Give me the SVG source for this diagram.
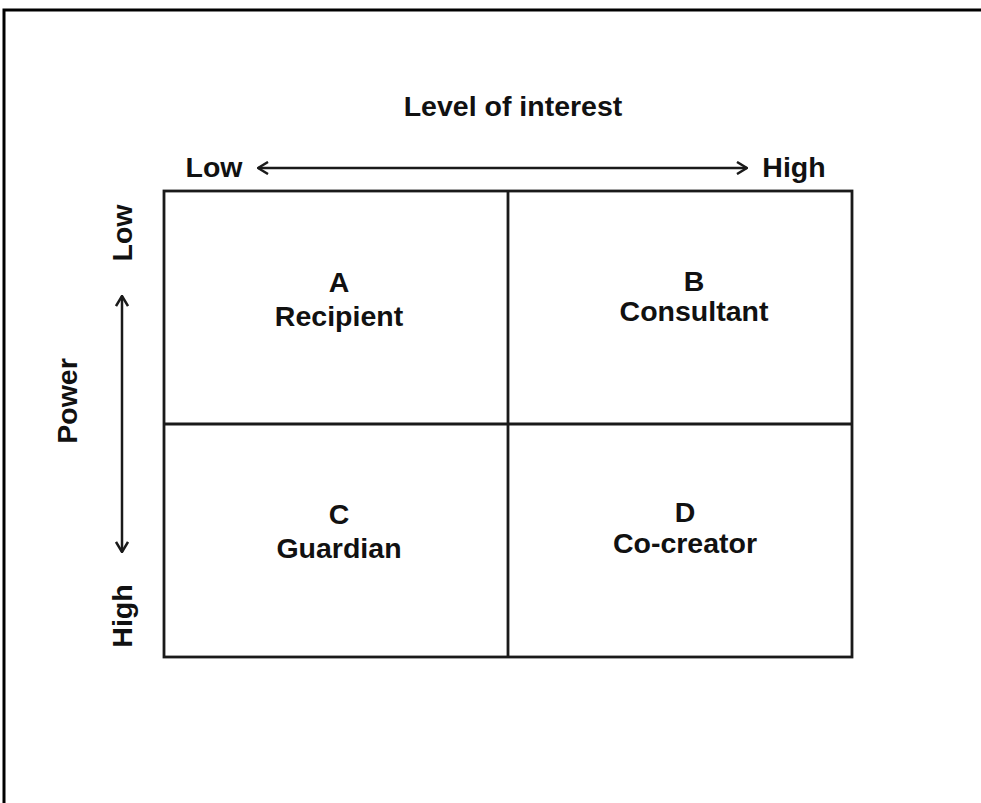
<svg xmlns="http://www.w3.org/2000/svg" width="981" height="803" viewBox="0 0 981 803">
  <style>
    .lbl { font-family: "Liberation Sans", Arial, sans-serif; font-weight: bold; font-size: 28.5px; fill: #111; text-anchor: middle; }
    .grid { fill: none; stroke: #1a1a1a; stroke-width: 2.8; }
    .axis { fill: none; stroke: #1a1a1a; stroke-width: 2.5; }
    .frame { fill: none; stroke: #000; stroke-width: 3; }
  </style>
  <defs>
    <marker id="chev" viewBox="0 0 12 14" refX="11" refY="7" markerWidth="12" markerHeight="14" markerUnits="userSpaceOnUse" orient="auto-start-reverse">
      <path d="M1,1 L11,7 L1,13" fill="none" stroke="#1a1a1a" stroke-width="2.5" stroke-linejoin="miter"/>
    </marker>
  </defs>
  <rect width="981" height="803" fill="#fff"/>

  <!-- outer frame: top and left edges -->
  <path class="frame" d="M4,803 L4,10 L981,10"/>

  <!-- axis titles and end labels -->
  <g id="axis-interest">
    <text class="lbl" x="513" y="116">Level of interest</text>
    <text class="lbl" x="214" y="177">Low</text>
    <text class="lbl" x="794" y="177">High</text>
  </g>
  <g id="axis-power">
    <text class="lbl" transform="translate(77,401) rotate(-90)">Power</text>
    <text class="lbl" transform="translate(132,233) rotate(-90)">Low</text>
    <text class="lbl" transform="translate(132,616) rotate(-90)">High</text>
  </g>

  <!-- axis arrows -->
  <g id="connectors">
    <line class="axis" x1="258" y1="168" x2="747" y2="168" marker-start="url(#chev)" marker-end="url(#chev)"/>
    <line class="axis" x1="122" y1="296" x2="122" y2="552" marker-start="url(#chev)" marker-end="url(#chev)"/>
  </g>

  <!-- 2x2 grid -->
  <g id="grid">
    <rect class="grid" x="164" y="191" width="688" height="466"/>
    <line class="grid" x1="508" y1="191" x2="508" y2="657"/>
    <line class="grid" x1="164" y1="424" x2="852" y2="424"/>
  </g>

  <!-- quadrants -->
  <g id="quadrant-a">
    <text class="lbl" x="339" y="292">A</text>
    <text class="lbl" x="339" y="326">Recipient</text>
  </g>
  <g id="quadrant-b">
    <text class="lbl" x="694" y="291">B</text>
    <text class="lbl" x="694" y="321">Consultant</text>
  </g>
  <g id="quadrant-c">
    <text class="lbl" x="339" y="524">C</text>
    <text class="lbl" x="339" y="558">Guardian</text>
  </g>
  <g id="quadrant-d">
    <text class="lbl" x="685" y="522">D</text>
    <text class="lbl" x="685" y="553">Co-creator</text>
  </g>
</svg>
